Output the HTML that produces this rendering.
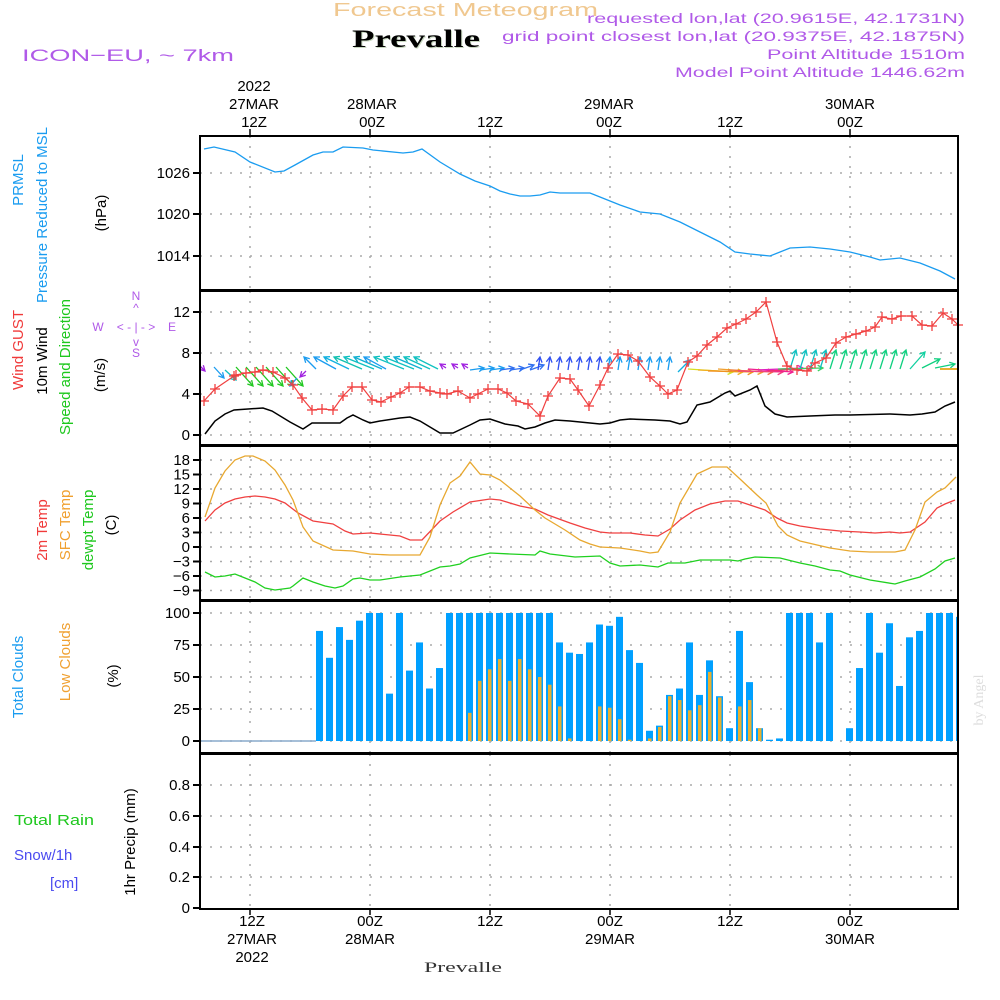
<!DOCTYPE html>
<html><head><meta charset="utf-8"><style>
html,body{margin:0;padding:0;background:#fff;}
svg{display:block;font-family:"Liberation Sans",sans-serif;}
</style></head><body>
<svg id="s" width="1000" height="1000" viewBox="0 0 1000 1000" xmlns="http://www.w3.org/2000/svg">
<rect width="1000" height="1000" fill="#fff"/>
<text x="333" y="16" font-size="18" fill="#f0c890" textLength="265" lengthAdjust="spacingAndGlyphs">Forecast Meteogram</text>
<text x="353" y="48" font-size="25" font-weight="bold" font-family="Liberation Serif,serif" fill="#c8d8c0" textLength="128" lengthAdjust="spacingAndGlyphs">Prevalle</text>
<text x="352" y="47" font-size="25" font-weight="bold" font-family="Liberation Serif,serif" fill="#000" textLength="128" lengthAdjust="spacingAndGlyphs">Prevalle</text>
<text x="22" y="61" font-size="17" fill="#b05ae8" textLength="212" lengthAdjust="spacingAndGlyphs">ICON−EU, ~ 7km</text>
<g font-size="14" fill="#b05ae8" text-anchor="end">
<text x="965" y="23" textLength="378" lengthAdjust="spacingAndGlyphs">requested lon,lat (20.9615E, 42.1731N)</text>
<text x="965" y="41" textLength="463" lengthAdjust="spacingAndGlyphs">grid point closest lon,lat (20.9375E, 42.1875N)</text>
<text x="965" y="59" textLength="198" lengthAdjust="spacingAndGlyphs">Point Altitude 1510m</text>
<text x="965" y="77" textLength="290" lengthAdjust="spacingAndGlyphs">Model Point Altitude 1446.62m</text>
</g>
<g font-size="15" fill="#000" text-anchor="middle">
<text x="254" y="91">2022</text><text x="254" y="109">27MAR</text><text x="254" y="127">12Z</text>
<text x="372" y="109">28MAR</text><text x="372" y="127">00Z</text>
<text x="490" y="127">12Z</text>
<text x="609" y="109">29MAR</text><text x="609" y="127">00Z</text>
<text x="730" y="127">12Z</text>
<text x="850" y="109">30MAR</text><text x="850" y="127">00Z</text>
<text x="252" y="926">12Z</text><text x="252" y="944">27MAR</text><text x="252" y="962">2022</text>
<text x="370" y="926">00Z</text><text x="370" y="944">28MAR</text>
<text x="490" y="926">12Z</text>
<text x="610" y="926">00Z</text><text x="610" y="944">29MAR</text>
<text x="730" y="926">12Z</text>
<text x="850" y="926">00Z</text><text x="850" y="944">30MAR</text>
</g>
<text x="424" y="972" font-size="15" font-family="Liberation Serif,serif" fill="#333" textLength="78" lengthAdjust="spacingAndGlyphs">Prevalle</text>
<g font-size="15" text-anchor="middle">
<text transform="translate(23,180) rotate(-90)" fill="#1a9cf0">PRMSL</text>
<text transform="translate(47,215) rotate(-90)" fill="#1a9cf0">Pressure Reduced to MSL</text>
<text transform="translate(106,213) rotate(-90)" fill="#000">(hPa)</text>
<text transform="translate(23,350) rotate(-90)" fill="#f03a3a">Wind GUST</text>
<text transform="translate(47,361) rotate(-90)" fill="#000">10m Wind</text>
<text transform="translate(70,367) rotate(-90)" fill="#1ec81e">Speed and Direction</text>
<text transform="translate(105,375) rotate(-90)" fill="#000">(m/s)</text>
<text transform="translate(47,530) rotate(-90)" fill="#f03a3a">2m Temp</text>
<text transform="translate(70,525) rotate(-90)" fill="#f0a030">SFC Temp</text>
<text transform="translate(93,530) rotate(-90)" fill="#1ec81e">dewpt Temp</text>
<text transform="translate(116,525) rotate(-90)" fill="#000">(C)</text>
<text transform="translate(23,677) rotate(-90)" fill="#1a9cf0">Total Clouds</text>
<text transform="translate(70,662) rotate(-90)" fill="#f0a030">Low Clouds</text>
<text transform="translate(118,676) rotate(-90)" fill="#000">(%)</text>
<text transform="translate(135,842) rotate(-90)" fill="#000">1hr Precip (mm)</text>
</g>
<text x="14" y="825" font-size="15" fill="#1ec81e" textLength="80" lengthAdjust="spacingAndGlyphs">Total  Rain</text>
<text x="14" y="860" font-size="15" fill="#4a4af0">Snow/1h</text>
<text x="50" y="888" font-size="15" fill="#4a4af0">[cm]</text>
<text transform="translate(983,700) rotate(-90)" font-size="14" font-family="Liberation Serif,serif" fill="#ddd" text-anchor="middle">by Angel</text>
<g font-size="12" fill="#b05ae8" text-anchor="middle">
<text x="136" y="300">N</text><text x="136" y="312">^</text><text x="98" y="331">W</text><text x="136" y="331">&lt; - | - &gt;</text><text x="172" y="331">E</text><text x="136" y="346">v</text><text x="136" y="357">S</text>
</g>
<g id="grid" stroke="#aaa" stroke-width="1.5" stroke-dasharray="2,8"></g>
<g id="data"></g>
<g id="frame" fill="none" stroke="#000" stroke-width="2"></g>
<g id="ticks" font-size="15" fill="#000" text-anchor="end"></g>
</svg>
<script>
var NS="http://www.w3.org/2000/svg";
function el(p,t,a){var e=document.createElementNS(NS,t);for(var k in a)e.setAttribute(k,a[k]);document.getElementById(p).appendChild(e);return e;}
var panels=[[136,290],[291,445],[446,600],[601,753],[754,909]];
var L=200,R=958;
panels.forEach(function(p){
 [250,370,490,610,730,850].forEach(function(x){el("grid","line",{x1:x,y1:p[0],x2:x,y2:p[1]});});
});
function hgrid(ys){ys.forEach(function(y){el("grid","line",{x1:L,y1:y,x2:R,y2:y});});}
function ticks(vals,ys){vals.forEach(function(v,i){var t=el("ticks","text",{x:190,y:ys[i]+5});t.textContent=v;el("frame","line",{x1:193,y1:ys[i],x2:200,y2:ys[i]});});}
hgrid([173,214,256]);ticks(["1026","1020","1014"],[173,214,256]);
hgrid([312,353,394,435]);ticks(["12","8","4","0"],[312,353,394,435]);
var ty=[],tv=[];for(var i=0;i<10;i++){ty.push(460+i*14.5);tv.push(String(18-3*i).replace("-","−"));}
hgrid(ty);ticks(tv,ty);
hgrid([613,645,677,709,741]);ticks(["100","75","50","25","0"],[613,645,677,709,741]);
hgrid([785,816,847,877]);ticks(["0.8","0.6","0.4","0.2","0"],[785,816,847,877,908]);
panels.forEach(function(p){el("frame","rect",{x:L,y:p[0],width:R-L,height:p[1]-p[0]});});
[250,370,490,610,730,850].forEach(function(x){el("frame","line",{x1:x,y1:129,x2:x,y2:136,"stroke-width":1.5});el("frame","line",{x1:x,y1:909,x2:x,y2:915,"stroke-width":1.5});});
el("frame","line",{x1:L,y1:909,x2:R,y2:909,"stroke-dasharray":"6,3","stroke-width":1.5});
function line(pts,c,w){el("data","polyline",{points:pts,fill:"none",stroke:c,"stroke-width":w||1.3});}
var tot=[86,65,89,79,94,100,100,37,100,55,77,41,57,100,100,100,100,100,100,100,100,100,100,100,77,69,68,77,91,90,97,71,61,8,12,36,41,77,36,63,35,10,86,46,10,1,2,100,100,100,77,100,0,10,57,100,69,92,43,81,86,100,100,100,97];
var low={466:22,476:47,486:56,496:64,506:47,516:64,526:56,536:50,546:44,556:27,566:2,596:27,606:26,616:17,626:1,646:2,656:11,666:35,676:32,686:24,696:28,706:54,716:34,736:27,746:32,756:10};
tot.forEach(function(v,i){var x=316+10*i;var w=Math.min(7,R-1-x);if(w<=0)return;var h=v*1.28;el("data","rect",{x:x,y:741-h,width:w,height:h,fill:"#00a0ff"});
 if(low[x]){var lh=low[x]*1.28;el("data","rect",{x:x+2,y:741-lh,width:3.5,height:lh,fill:"#e8b030"});}});
line("201,741 316,741","#8ac",1.5);
line("204,149 214,147 235,152 250,162 275,172 284,171 295,165 313,155 323,152 333,152 343,147 363,148 373,150 403,153 413,152 422,149 440,162 460,174 475,181 490,186 500,191 510,194 520,196 530,196 540,195 550,192 560,193 590,193 600,197 620,205 640,212 660,214 680,222 700,232 720,242 735,252 750,254 770,256 790,248 810,247 830,249 850,252 870,257 880,260 900,258 920,263 940,271 955,279","#1a9cf0");
line("205,521 215,510 225,503 235,499 245,497 255,496 265,497 275,499 285,503 298,513 313,521 333,524 345,531 353,534 370,533 400,536 410,540 422,540 440,521 453,512 470,502 490,499 500,500 520,506 535,509 548,515 570,523 585,528 600,532 610,533 630,533 645,535 658,536 670,529 680,520 695,510 710,504 725,501 738,501 750,505 765,510 777,518 787,523 800,526 820,529 840,531 860,532 875,533 890,532 900,533 910,532 925,522 937,508 945,504 955,500","#f04040");
line("205,517 215,488 225,471 235,460 245,456 253,456 265,461 275,470 285,485 293,500 303,527 313,541 333,550 353,551 370,554 390,555 420,555 430,537 440,505 450,483 460,476 470,462 480,474 490,475 500,480 520,496 535,510 545,518 565,530 580,540 590,544 600,547 620,548 640,551 650,553 658,552 670,532 680,503 697,474 712,467 727,467 740,479 757,495 766,503 778,526 787,535 800,541 830,548 850,551 870,552 885,552 895,552 905,550 915,530 925,502 937,492 945,488 956,477","#e8a830");
line("205,572 215,577 225,576 235,574 245,578 255,582 265,588 275,590 290,588 293,586 303,578 313,582 325,586 335,588 343,586 353,579 360,578 370,580 380,580 400,577 420,575 440,567 450,566 460,564 470,558 490,553 510,554 535,555 540,551 550,554 575,557 600,556 610,563 620,566 640,565 658,567 668,563 685,563 700,560 730,560 738,561 745,559 755,557 780,558 800,563 815,566 830,570 840,571 850,575 870,580 895,584 905,581 920,577 935,569 945,561 955,558","#20d020");
line("205,434 215,421 225,414 234,410 263,408 272,411 290,422 303,429 312,423 330,423 340,423 347,418 353,415 363,420 370,423 380,421 400,418 410,417 420,421 440,433 453,433 470,425 480,420 490,419 505,424 518,426 525,429 535,427 545,423 555,420 570,421 600,424 610,423 620,420 630,419 655,420 670,421 680,424 687,422 697,405 710,402 725,393 730,391 735,396 750,390 757,386 765,406 775,414 787,417 810,416 835,415 850,415 890,414 910,415 922,414 935,412 945,406 955,402","#000",1.5);
function arrow(x1,y1,x2,y2,c){line(x1+","+y1+" "+x2+","+y2,c,1.3);var a=Math.atan2(y2-y1,x2-x1),h=6;
 var p=(x2-h*Math.cos(a-0.5))+","+(y2-h*Math.sin(a-0.5))+" "+x2+","+y2+" "+(x2-h*Math.cos(a+0.5))+","+(y2-h*Math.sin(a+0.5));line(p,c,1.3);}
arrow(200,366,205,371,"#a020e0");
arrow(214,367,224,378,"#1a9cf0");arrow(225,370,236,380,"#10c0c0");
for(var x=236;x<=286;x+=10)arrow(x,367,x+17,386,"#20c820");
arrow(297,378,290,386,"#1a9cf0");arrow(306,371,300,377,"#a020e0");
var ul=[[304,12,"#1a9cf0"],[314,22,"#1a9cf0"],[324,25,"#10b0e0"],[334,28,"#10c0b0"],[344,30,"#10c0c0"],[354,28,"#10b0d0"],[364,22,"#1a9cf0"],[374,30,"#10c0c0"],[384,30,"#10c0c0"],[394,28,"#10b0d0"],[404,26,"#10c0c0"],[414,24,"#10c0c0"]];
ul.forEach(function(a){arrow(a[0]+a[1],369,a[0],357,a[2]);});
[440,452,462].forEach(function(x){arrow(x+6,368,x,364,"#a020e0");});
for(var x=470;x<=530;x+=10)arrow(x,370,x+14,368-(x>510?3:0),x<500?"#1a9cf0":"#3070f0");
for(var x=538;x<=668;x+=10)arrow(x,370,x+(x%20?2:1),357,x<600?"#3050f0":"#1a9cf0");
arrow(678,372,690,360,"#10b0e0");
var rc=["#d8e020","#f0b020","#f09020","#f0a030","#f07040","#f04080","#f02090","#e020c0","#f03070","#40d060"];
for(var i=0;i<10;i++){var x=688+i*10;arrow(x,369+(i%3),x+45,372-(i>6?4:0),rc[i]);}
for(var x=790;x<=900;x+=10)arrow(x,369,x+6,350,x<830?"#10c0c0":"#10d080");
arrow(910,369,925,352,"#10d0a0");arrow(922,368,940,359,"#10d080");arrow(935,368,955,364,"#10d080");
line("940,369 958,369","#e8b030",2);
var g="204,401 215,389 234,376 236,375 246,373 255,372 263,370 273,372 285,378 293,385 302,398 312,410 322,409 333,410 343,396 352,387 362,387 372,400 381,402 391,397 400,393 409,387 420,387 430,391 440,393 447,394 458,391 470,398 478,394 488,389 498,389 507,393 516,401 528,404 540,416 548,396 560,378 570,379 578,390 589,406 600,385 608,368 618,354 628,355 638,361 650,377 660,386 668,394 677,390 688,362 697,356 707,345 717,337 727,328 736,324 746,319 756,312 766,302 777,342 787,366 797,370 807,371 815,363 826,358 836,343 846,337 856,334 866,331 875,327 882,317 892,319 901,316 912,316 922,325 932,326 943,313 952,319 958,325";
line(g,"#f04040",1.2);
g.split(" ").forEach(function(p){var q=p.split(",").map(Number);line((q[0]-5)+","+q[1]+" "+(q[0]+5)+","+q[1],"#f04040",1.3);line(q[0]+","+(q[1]-5)+" "+q[0]+","+(q[1]+5),"#f04040",1.3);});
</script>
</body></html>
